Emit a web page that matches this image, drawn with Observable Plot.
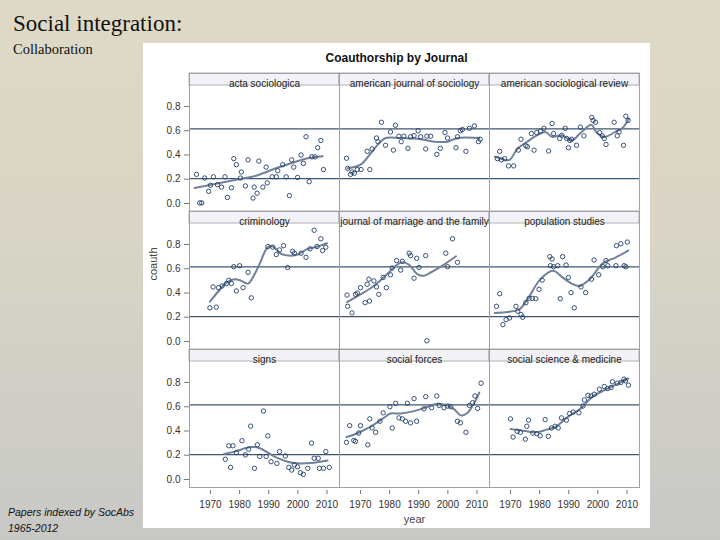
<!DOCTYPE html>
<html><head><meta charset="utf-8">
<script src="https://cdn.jsdelivr.net/npm/d3@7"></script>
<script src="https://cdn.jsdelivr.net/npm/@observablehq/plot@0.6"></script>
<style>
html,body{margin:0;padding:0;}
#slide{position:relative;width:720px;height:540px;overflow:hidden;background:linear-gradient(to bottom,#dfdac6 0%,#d8d5c6 45%,#c8c8c6 100%);font-family:"Liberation Serif","DejaVu Serif","Times New Roman",serif;}
#t1{position:absolute;left:13px;top:12px;font-size:23px;line-height:1;color:#111;font-family:"Liberation Serif","DejaVu Serif",serif;}
#t2{position:absolute;left:13px;top:42px;font-size:14.5px;line-height:1;color:#111;font-family:"Liberation Serif","DejaVu Serif",serif;}
#panel{position:absolute;left:143px;top:43px;width:507px;height:485px;background:#fff;}
#ctitle{position:absolute;left:0;width:507px;top:8px;text-align:center;font:bold 12px "Liberation Sans",Arial,sans-serif;line-height:14px;color:#111;}
#chart{position:absolute;left:0;top:27px;}
#cap{position:absolute;left:8px;top:504px;font:italic 10.5px "Liberation Sans",Arial,sans-serif;line-height:16px;color:#111;}
</style>
</head><body>
<div id="slide">
  <div id="t1">Social integration:</div>
  <div id="t2">Collaboration</div>
  <div id="panel">
    <div id="ctitle">Coauthorship by Journal</div>
    <div id="chart"></div>
  </div>
  <div id="cap">Papers indexed by SocAbs<br>1965-2012</div>
</div>
<script>
const journals = ["acta sociologica","american journal of sociology","american sociological review","criminology","journal of marriage and the family","population studies","signs","social forces","social science & medicine"];
const xTicks = [1970, 1980, 1990, 2000, 2010];
const yTicks = [0, 0.2, 0.4, 0.6, 0.8];
const refLines = [0.205, 0.615];

const actaPoints = [[1965.2,0.24],[1966.3,0.005],[1967.0,0.005],[1968,0.21],[1969.4,0.10],[1970,0.15],[1971,0.22],[1972.4,0.155],[1973.8,0.135],[1975,0.22],[1975.8,0.05],[1977.2,0.13],[1978,0.37],[1978.9,0.32],[1980.6,0.26],[1980.3,0.21],[1982,0.145],[1982.9,0.36],[1985,0.135],[1986,0.085],[1984.6,0.045],[1986.6,0.35],[1988,0.135],[1989.1,0.30],[1989.5,0.17],[1991.2,0.22],[1992.6,0.22],[1993.1,0.27],[1994.8,0.32],[1996,0.22],[1997.1,0.065],[1997.9,0.36],[1998.6,0.30],[1999.9,0.215],[2001.1,0.40],[2001.9,0.33],[2002.8,0.55],[2003.9,0.18],[2004.8,0.385],[2005.9,0.385],[2006.8,0.46],[2007.9,0.52],[2008.8,0.28]];
const actaFit = [[1964.6,0.128],[1980.6,0.204],[1985.7,0.229],[1992,0.286],[1998.8,0.34],[2003.4,0.373],[2008.5,0.39]];

const ajsPoints = [[1965.2,0.373],[1965.6,0.29],[1966.6,0.24],[1967.1,0.26],[1967.9,0.25],[1968.9,0.28],[1970.2,0.28],[1973.2,0.28],[1972.3,0.43],[1974,0.45],[1975.5,0.54],[1976,0.51],[1977.2,0.67],[1978.6,0.48],[1980.3,0.59],[1981.3,0.44],[1982,0.645],[1983.2,0.555],[1984,0.51],[1984.9,0.555],[1986.3,0.455],[1987.2,0.55],[1988.4,0.56],[1989.8,0.60],[1990.7,0.55],[1992.4,0.45],[1992.8,0.555],[1994.1,0.555],[1996.2,0.405],[1997.4,0.455],[1999,0.585],[1999.9,0.54],[2002.8,0.46],[2003.3,0.55],[2004.3,0.60],[2005,0.61],[2006.2,0.43],[2007.4,0.62],[2009.1,0.64],[2010.5,0.51],[2011.1,0.53]];
const ajsFit = [[1965.6,0.29],[1970,0.32],[1973.4,0.41],[1976.5,0.5],[1978.6,0.54],[1983.8,0.54],[1990.7,0.53],[1995.3,0.51],[1999.9,0.51],[2003.3,0.54],[2010.8,0.54]];

const asrPoints = [[1965.5,0.37],[1966.3,0.43],[1966.9,0.36],[1968,0.37],[1969.3,0.31],[1971.1,0.31],[1972.7,0.44],[1973.6,0.53],[1975.3,0.476],[1975.8,0.468],[1978.1,0.44],[1977.2,0.577],[1979,0.585],[1980.3,0.596],[1981.5,0.62],[1983.1,0.433],[1984.3,0.66],[1984.8,0.577],[1986.9,0.536],[1987.6,0.563],[1988.8,0.62],[1989.3,0.536],[1989.9,0.46],[1990.4,0.52],[1991,0.53],[1992.7,0.48],[1994,0.63],[1995.2,0.558],[1997.9,0.71],[1998.4,0.685],[1999.2,0.67],[2000.6,0.585],[2001.5,0.558],[2002.2,0.536],[2002.8,0.487],[2005.6,0.67],[2006.7,0.558],[2007.3,0.59],[2008.8,0.48],[2009.6,0.72],[2010.4,0.685]];
const asrFit = [[1964.6,0.386],[1968,0.36],[1969.7,0.36],[1972.5,0.455],[1975.8,0.51],[1979.2,0.563],[1982,0.59],[1984.3,0.55],[1987.6,0.563],[1991,0.52],[1994.4,0.59],[1997.8,0.65],[1999.4,0.59],[2002.2,0.55],[2006.7,0.6],[2008.4,0.62],[2010.7,0.7]];

const crimPoints = [[1969.8,0.278],[1972,0.283],[1970.9,0.45],[1972.8,0.444],[1974,0.458],[1975.5,0.478],[1976.3,0.505],[1977.2,0.478],[1978,0.617],[1980,0.625],[1978.9,0.417],[1981.2,0.444],[1982.9,0.57],[1984,0.36],[1989.7,0.783],[1991.4,0.778],[1992.6,0.717],[1993.7,0.755],[1995.1,0.79],[1996.5,0.61],[1998.2,0.744],[1998.8,0.728],[2001.1,0.728],[2002.8,0.694],[2004.2,0.764],[2005.6,0.917],[2006.6,0.783],[2007.9,0.847],[2008.5,0.75],[2009.6,0.778]];
const crimFit = [[1969.8,0.328],[1972.6,0.41],[1975.5,0.486],[1978.3,0.514],[1980.6,0.5],[1982.9,0.478],[1986.3,0.61],[1989.7,0.778],[1991.4,0.783],[1994.3,0.722],[1997.7,0.708],[2000,0.717],[2003.4,0.764],[2006.8,0.783],[2010,0.81]];

const jmfPoints = [[1965.4,0.383],[1965.6,0.29],[1967.1,0.236],[1968.3,0.389],[1968.9,0.40],[1970,0.444],[1972.3,0.472],[1972.9,0.514],[1971.6,0.32],[1973.1,0.333],[1974.6,0.5],[1975.5,0.45],[1976.3,0.389],[1977.8,0.528],[1978.9,0.444],[1980.3,0.55],[1980.9,0.606],[1982.4,0.667],[1984.4,0.661],[1983.8,0.589],[1986.7,0.728],[1987.2,0.708],[1989.3,0.686],[1988.4,0.522],[1990.1,0.611],[1992.4,0.708],[1992.8,0.006],[1999.3,0.728],[1999.9,0.617],[2001.6,0.847],[2003.3,0.653]];
const jmfFit = [[1965.4,0.325],[1970,0.389],[1974.6,0.458],[1979.2,0.556],[1982.1,0.625],[1984.4,0.653],[1986.7,0.633],[1989.5,0.556],[1991.8,0.542],[1994.1,0.569],[1997.6,0.617],[2002.8,0.703]];

const popPoints = [[1965.2,0.29],[1966.3,0.394],[1967.4,0.139],[1968.5,0.18],[1969.7,0.194],[1971.9,0.29],[1972.5,0.25],[1973.6,0.222],[1974.2,0.2],[1975.3,0.32],[1976.4,0.356],[1977.5,0.356],[1978.7,0.353],[1979.8,0.43],[1980.9,0.506],[1983.5,0.7],[1984.3,0.68],[1983.7,0.625],[1984.8,0.617],[1986.2,0.625],[1987.9,0.7],[1989.1,0.63],[1989.9,0.528],[1987.1,0.353],[1990.8,0.403],[1991.9,0.278],[1994.2,0.45],[1995.8,0.403],[1997.8,0.514],[1998.7,0.672],[2000.3,0.55],[2001.7,0.617],[2002.8,0.667],[2003.4,0.625],[2006.2,0.625],[2009,0.625],[2006.4,0.79],[2007.9,0.806],[2010.1,0.82],[2009.6,0.617]];
const popFit = [[1964.6,0.236],[1969.1,0.244],[1973,0.264],[1975.8,0.347],[1980.3,0.514],[1984.6,0.583],[1988.2,0.522],[1991,0.478],[1993.6,0.458],[1997.2,0.514],[2001.7,0.644],[2006.2,0.694],[2010.4,0.75]];

const signsPoints = [[1975.1,0.167],[1976.3,0.278],[1977.7,0.278],[1976.9,0.1],[1978.9,0.222],[1980.8,0.32],[1982,0.203],[1983.1,0.25],[1983.8,0.44],[1985.1,0.092],[1986.1,0.286],[1986.9,0.19],[1988.2,0.564],[1989.1,0.19],[1989.7,0.36],[1990.8,0.147],[1992.8,0.133],[1993.7,0.23],[1995.7,0.194],[1996.9,0.1],[1997.9,0.078],[1998.8,0.12],[1999.9,0.105],[2000.9,0.056],[2001.9,0.042],[2003.4,0.092],[2004.7,0.3],[2005.6,0.175],[2007,0.175],[2007.4,0.092],[2008.8,0.092],[2009.6,0.23],[2010.8,0.1]];
const signsFit = [[1974.7,0.211],[1978.3,0.23],[1984,0.267],[1986.9,0.258],[1992,0.189],[1996.5,0.147],[1999.9,0.133],[2005.6,0.139],[2010.2,0.156]];

const sfPoints = [[1965.2,0.306],[1966.3,0.444],[1967.7,0.322],[1968.3,0.314],[1970,0.444],[1969.4,0.383],[1972.5,0.286],[1973.2,0.5],[1974,0.425],[1975.2,0.389],[1976.7,0.48],[1977.8,0.55],[1980.1,0.6],[1980.9,0.425],[1982.1,0.628],[1983.2,0.508],[1984.4,0.5],[1985.5,0.48],[1986.1,0.628],[1987.2,0.467],[1988.4,0.667],[1989.3,0.48],[1991.8,0.583],[1992.4,0.683],[1994.4,0.592],[1996.2,0.689],[1997,0.611],[1998.7,0.592],[1999.9,0.606],[2001,0.6],[2003.3,0.48],[2004.3,0.467],[2006.2,0.389],[2007.4,0.611],[2008.5,0.633],[2009.3,0.689],[2010.2,0.586],[2011.4,0.794]];
const sfFit = [[1965.2,0.35],[1967.7,0.369],[1971.1,0.406],[1974.6,0.453],[1978,0.508],[1980.3,0.544],[1983.8,0.544],[1988.4,0.564],[1993,0.6],[1996.4,0.625],[1999.9,0.611],[2002.2,0.578],[2004.5,0.528],[2006.8,0.55],[2009.1,0.633],[2010.8,0.717]];

const ssmPoints = [[1970,0.5],[1970.9,0.35],[1972.3,0.397],[1973.4,0.389],[1975.1,0.333],[1975.6,0.439],[1976.2,0.489],[1977.7,0.383],[1979,0.378],[1980.2,0.361],[1981.9,0.494],[1983,0.356],[1984.1,0.425],[1985.3,0.439],[1986.4,0.425],[1987.5,0.508],[1989.2,0.489],[1990.3,0.544],[1991.5,0.556],[1993.5,0.55],[1994.9,0.606],[1995.4,0.656],[1996.6,0.694],[1997.7,0.689],[1998.8,0.703],[2000.5,0.744],[2002.2,0.767],[2003.3,0.75],[2004.5,0.758],[2005,0.806],[2006.7,0.794],[2007.9,0.8],[2009,0.828],[2009.5,0.814],[2010.5,0.778]];
const ssmFit = [[1970,0.417],[1973.4,0.406],[1975.6,0.397],[1979,0.389],[1982.4,0.411],[1985.8,0.439],[1989.2,0.508],[1993.7,0.578],[1998.2,0.683],[2002.8,0.744],[2007.3,0.794],[2010.5,0.833]];

const allPoints = [actaPoints, ajsPoints, asrPoints, crimPoints, jmfPoints, popPoints, signsPoints, sfPoints, ssmPoints];
const allFits = [actaFit, ajsFit, asrFit, crimFit, jmfFit, popFit, signsFit, sfFit, ssmFit];

const cells = journals.map((name, i) => ({name, col: i % 3, row: Math.floor(i / 3)}));
const toRows = (arrs) => arrs.flatMap((pts, i) => pts.map(([year, coauth]) => ({year, coauth, col: cells[i].col, row: cells[i].row})));
const pointRows = toRows(allPoints);
const fitRows = toRows(allFits);

const stripBottom = 0.973, stripTop = 1.072;

const chart = Plot.plot({
  width: 507,
  height: 458,
  marginLeft: 45,
  marginRight: 10,
  marginTop: 2,
  marginBottom: 41,
  style: {fontFamily: '"Liberation Sans", Arial, sans-serif', fontSize: "10px", color: "#333", background: "white", overflow: "visible"},
  fx: {domain: [0, 1, 2], padding: 0, axis: null},
  fy: {domain: [0, 1, 2], padding: 0, axis: null},
  x: {domain: [1962.8, 2014.3]},
  y: {domain: [-0.066, stripTop]},
  marks: [
    Plot.rect(cells, {fx: "col", fy: "row", y1: stripBottom, y2: stripTop, fill: "#f2f2f8", stroke: "#b0b0b0", strokeWidth: 1}),
    Plot.text(cells, {fx: "col", fy: "row", text: "name", frameAnchor: "top", dy: 6.5, fontSize: 10, fill: "#222"}),
    Plot.ruleY(refLines, {stroke: "#3e566e", strokeWidth: 1.1}),
    Plot.line(fitRows, {x: "year", y: "coauth", fx: "col", fy: "row", stroke: "#71819a", strokeWidth: 2, curve: "catmull-rom"}),
    Plot.dot(pointRows, {x: "year", y: "coauth", fx: "col", fy: "row", r: 2.2, stroke: "#21406a", strokeWidth: 0.9, fill: "none"}),
    Plot.frame({stroke: "#a0a0a0"}),
    Plot.axisX({ticks: xTicks, tickFormat: d => String(d), tickSize: 4, tickPadding: 6, dy: 3, label: null, stroke: "#777", fill: "#333", fontSize: 10}),
    Plot.axisY({ticks: yTicks, tickFormat: d3.format(".1f"), tickSize: 5, tickPadding: 4, label: null, stroke: "#777", fill: "#333", fontSize: 10}),
    Plot.text(["coauth"], {fx: [0], fy: [1], text: d => d, frameAnchor: "left", dx: -36, rotate: -90, fontSize: 11, fill: "#444"}),
    Plot.text(["year"], {fx: [1], fy: [2], text: d => d, frameAnchor: "bottom", dy: 35, fontSize: 11, fill: "#444"})
  ]
});
document.getElementById("chart").appendChild(chart);
</script>
</body></html>
